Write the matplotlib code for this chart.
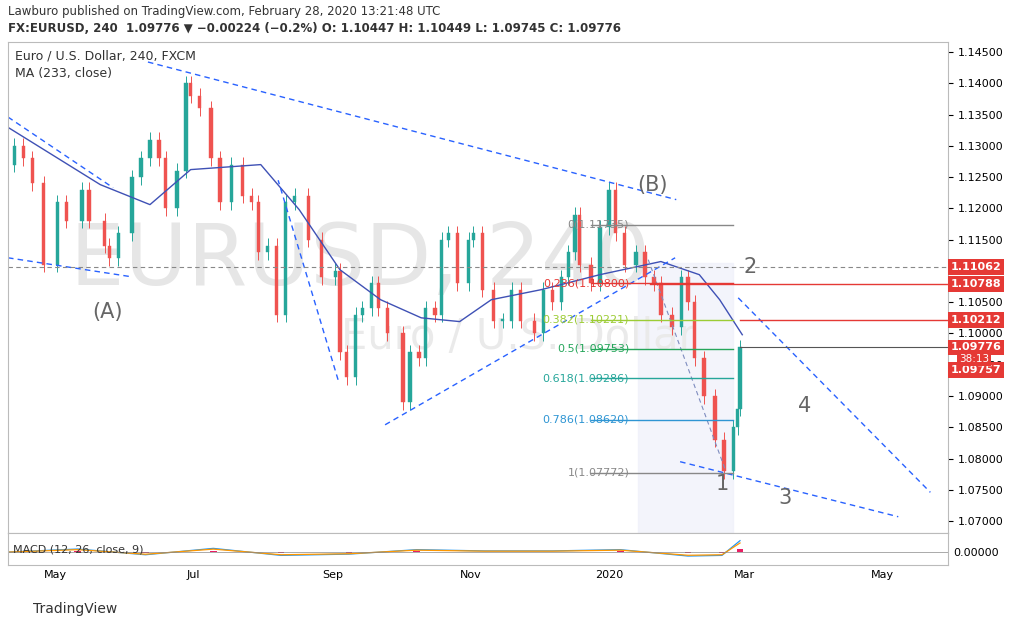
import matplotlib.pyplot as plt
import numpy as np

# days counted from 2019-01-01 (day 0)
days = [98, 102, 106, 110, 115, 121, 125, 132, 135, 142, 144, 148, 154, 158, 162, 166, 169, 174, 178,
        180, 184, 189, 193, 198, 203, 207, 210, 214, 218, 222, 226, 232, 238, 244, 246, 249, 253, 256,
        260, 263, 267, 274, 277, 281, 284, 288, 291, 294, 298, 303, 305, 309, 314, 318, 322, 326, 332,
        336, 340, 344, 347, 350, 352, 357, 361, 365, 368, 372, 377, 381, 385, 388, 393, 397, 400, 403,
        407, 412, 416, 420, 422, 423]
closes = [1.1270, 1.1300, 1.1280, 1.1240, 1.1110, 1.1210, 1.1180, 1.1230, 1.1180, 1.1140, 1.1120,
          1.1160, 1.1250, 1.1280, 1.1310, 1.1280, 1.1200, 1.1260, 1.1400, 1.1380, 1.1360, 1.1280,
          1.1210, 1.1270, 1.1220, 1.1210, 1.1130, 1.1140, 1.1030, 1.1210, 1.1220, 1.1150, 1.1090,
          1.1100, 1.0970, 1.0930, 1.1030, 1.1040, 1.1080, 1.1040, 1.1000, 1.0890, 1.0970, 1.0960,
          1.1040, 1.1030, 1.1150, 1.1160, 1.1080, 1.1150, 1.1160, 1.1070, 1.1020, 1.1020, 1.1070,
          1.1020, 1.1000, 1.1070, 1.1050, 1.1090, 1.1130, 1.1190, 1.1110, 1.1080, 1.1170, 1.1230,
          1.1160, 1.1110, 1.1130, 1.1090, 1.1080, 1.1030, 1.1010, 1.1090, 1.1050, 1.0960, 1.0900,
          1.0830, 1.0780, 1.0850, 1.0880, 1.09776]

ma_days = [99, 140, 162, 180, 211, 228, 246, 264, 282, 299, 313, 335, 361, 388, 405, 414, 424]
ma_vals = [1.1330, 1.1238, 1.1206, 1.1262, 1.1270, 1.1198, 1.1102, 1.1054, 1.1025, 1.1019, 1.1054,
           1.1070, 1.1094, 1.1115, 1.1094, 1.1054, 1.0998]

fib_ratio = ['0', '0.236', '0.382', '0.5', '0.618', '0.786', '1']
fib_price = [1.11735, 1.10800, 1.10221, 1.09753, 1.09286, 1.08620, 1.07772]
fib_color = ['#888888', '#e53935', '#9ccc35', '#26a65b', '#26a69a', '#2e95d3', '#888888']

trend_lines = [((99.2, 1.1346), (145.7, 1.1233)), ((99.2, 1.1121), (153.2, 1.1091)),
               ((161.1, 1.1434), (394.8, 1.1214)), ((245.2, 1.0926), (218.7, 1.1245)),
               ((266, 1.0854), (394.3, 1.1121)), ((396.5, 1.0795), (493, 1.0707)),
               ((422.2, 1.1057), (507.2, 1.0746))]

month_days = [120, 181, 243, 304, 365, 425, 486]
month_lbl = ['May', 'Jul', 'Sep', 'Nov', '2020', 'Mar', 'May']
price_ticks = np.arange(1.07, 1.1451, 0.005)

macd_days = [98, 130, 160, 190, 220, 250, 280, 310, 340, 370, 400, 415, 423]
macd_vals = [0.0, 0.0005, -0.0004, 0.0006, -0.0005, -0.0003, 0.0004, 0.0002, 0.0002, 0.0004, -0.0006,
             -0.0005, 0.0018]

W, H = 1013, 628
fig = plt.figure(figsize=(W / 100, H / 100), dpi=100)
ax = fig.add_axes([8 / W, 1 - 533 / H, 940 / W, 491 / H])
am = fig.add_axes([8 / W, 1 - 565 / H, 940 / W, 32 / H], sharex=ax)
ax.set_xlim(99.2, 515)
ax.set_ylim(1.0681, 1.1466)

ax.axvspan(378, 420, ymin=0, ymax=(1.1112 - 1.0681) / (1.1466 - 1.0681), color='#eef0fa', alpha=0.7, zorder=0)

# candles
opens = [closes[0]] + closes[:-1]
for d, o, c in zip(days, opens, closes):
    col = '#26a69a' if c >= o else '#ef5350'
    lo, hi = min(o, c), max(o, c)
    ax.vlines(d, lo - 0.0012, hi + 0.0012, color=col, lw=0.7)
    ax.bar(d, max(hi - lo, 0.0003), bottom=lo, width=1.5, color=col, edgecolor=col, lw=0.3)

ax.plot(ma_days, ma_vals, color='#3f51b5', lw=1)

for (a, b) in trend_lines:
    ax.plot([a[0], b[0]], [a[1], b[1]], ls=(0, (4, 3)), color='#2962ff', lw=1)
ax.plot([382.4, 416.5], [1.1118, 1.0782], ls=(0, (4, 3)), color='#7e8cbf', lw=0.8)

ax.axhline(1.11062, color='#888888', ls=(0, (4, 3)), lw=0.8)
ax.plot([383, 515], [1.10788, 1.10788], color='#e53935', lw=1)
ax.plot([423, 515], [1.10212, 1.10212], color='#e53935', lw=1)
ax.plot([423, 515], [1.09776, 1.09776], color='#555555', lw=0.8)

for r, p, c in zip(fib_ratio, fib_price, fib_color):
    ax.plot([357, 420], [p, p], color=c, lw=1)
    ax.text(374, p, f'{r}({p:.5f})', color=c, fontsize=8, ha='right', va='center')

ax.text(255, 1.1115, 'EURUSD, 240', fontsize=62, color='#e6e6e6', ha='center', va='center', zorder=0)
ax.text(325, 1.0995, 'Euro / U.S. Dollar', fontsize=30, color='#eaeaea', ha='center', va='center', zorder=0)

for t, d, p in [('(A)', 143.4, 1.1035), ('(B)', 384.2, 1.1238), ('1', 415, 1.0760), ('2', 427.5, 1.1106),
                ('3', 443, 1.0737), ('4', 451.4, 1.0884)]:
    ax.text(d, p, t, fontsize=15, color='#666666', ha='center', va='center')

ax.text(0.007, 0.985, 'Euro / U.S. Dollar, 240, FXCM', transform=ax.transAxes, fontsize=9, va='top', color='#333333')
ax.text(0.007, 0.95, 'MA (233, close)', transform=ax.transAxes, fontsize=9, va='top', color='#333333')

ax.yaxis.tick_right()
ax.set_yticks(price_ticks)
ax.set_yticklabels([f'{v:.5f}' for v in price_ticks], fontsize=8)
ax.tick_params(axis='x', labelbottom=False, length=0)
for lab, p in [('1.11062', 1.11062), ('1.10788', 1.10788), ('1.10212', 1.10212), ('1.09776', 1.09776),
               ('1.09757', 1.0942)]:
    ax.text(1.003, p, lab, transform=ax.get_yaxis_transform(), fontsize=8, fontweight='bold', color='white',
            va='center', bbox=dict(boxstyle='square,pad=0.25', fc='#e53935', ec='none'))
ax.text(1.012, 1.0959, '38:13', transform=ax.get_yaxis_transform(), fontsize=7.5, color='white',
        va='center', bbox=dict(boxstyle='square,pad=0.2', fc='#e53935', ec='none'))
for a in (ax, am):
    for s in a.spines.values():
        s.set_color('#bbbbbb')

am.plot(macd_days, macd_vals, color='#2196f3', lw=0.9)
am.plot(macd_days, [v * 0.8 for v in macd_vals], color='#ff9800', lw=0.9)
am.bar(macd_days, [v * 0.3 for v in macd_vals], width=3, color='#e91e63')
am.axhline(0, color='#888888', lw=0.5)
am.set_ylim(-0.002, 0.003)
am.yaxis.tick_right()
am.set_yticks([0.0])
am.set_yticklabels(['0.00000'], fontsize=8)
am.set_xticks(month_days)
am.set_xticklabels(month_lbl, fontsize=8)
am.tick_params(length=0)
am.text(0.005, 0.5, 'MACD (12, 26, close, 9)', transform=am.transAxes, fontsize=8, va='center', color='#333333')

fig.text(8 / W, 1 - 12 / H, 'Lawburo published on TradingView.com, February 28, 2020 13:21:48 UTC',
         fontsize=8.5, va='center', color='#333333')
fig.text(8 / W, 1 - 29 / H, 'FX:EURUSD, 240  1.09776 ▼ −0.00224 (−0.2%) O: 1.10447 H: 1.10449 L: 1.09745 C: 1.09776',
         fontsize=8.5, va='center', color='#333333', fontweight='bold')
fig.text(33 / W, 1 - 609 / H, 'TradingView', fontsize=10, va='center', color='#333333')
fig.savefig('out.png', dpi=100)
